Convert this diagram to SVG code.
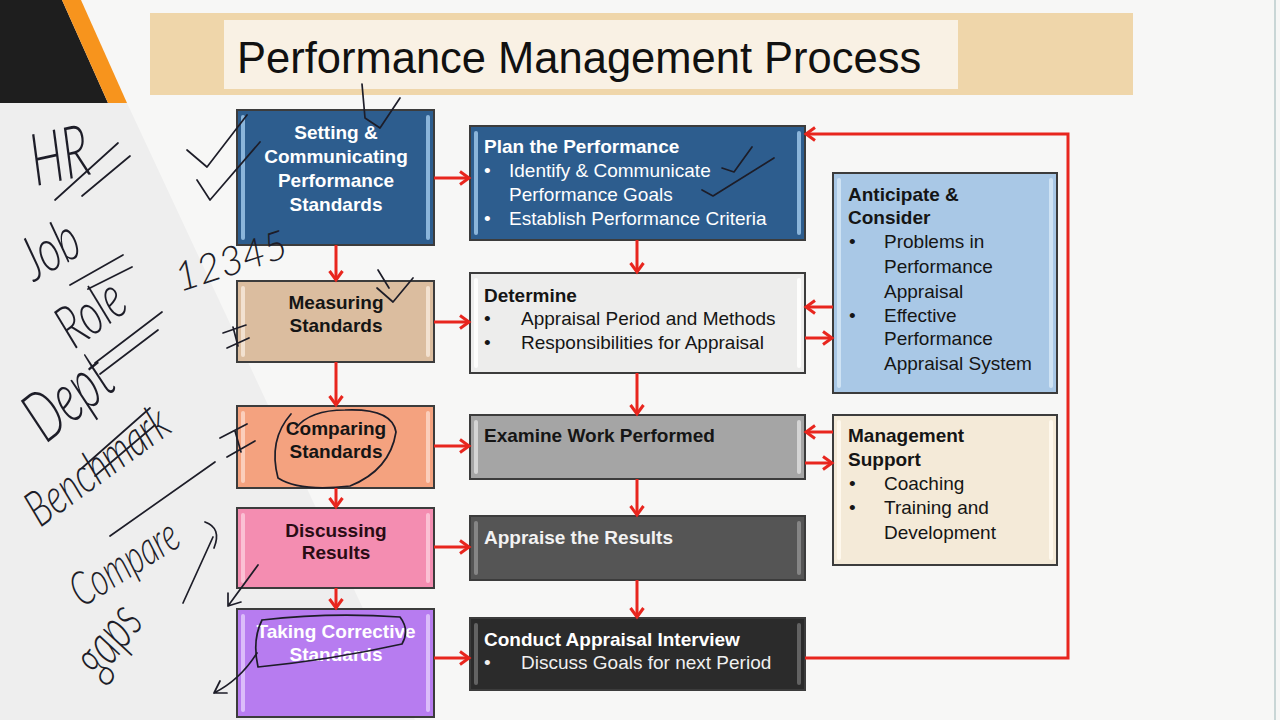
<svg xmlns="http://www.w3.org/2000/svg" width="1280" height="720" viewBox="0 0 1280 720">
<defs>
<style>
.t{font-family:"Liberation Sans",Arial,sans-serif;font-size:19px}
.b{font-weight:bold}
.c{text-anchor:middle}
.w{fill:#ffffff}
.k{fill:#151515}
.box{stroke:#3c3c3c;stroke-width:2}
.hl{opacity:0.85}
.red{fill:none;stroke:#e8261e;stroke-width:3}
.pen{fill:none;stroke:#1d1d28;stroke-width:1.7;stroke-linecap:round;stroke-linejoin:round}
.hw{font-family:Lato,"DejaVu Sans",sans-serif;font-weight:300;font-style:italic;fill:#1d1d28}
</style>
<marker id="ah" markerWidth="14" markerHeight="16" refX="11" refY="8" orient="auto" markerUnits="userSpaceOnUse">
<path d="M2,1.5 L11,8 L2,14.5" fill="none" stroke="#e8261e" stroke-width="3"/>
</marker>
</defs>

<rect x="0" y="0" width="1280" height="720" fill="#f7f7f6"/>
<polygon points="0,103 127,103 415,720 0,720" fill="#eeeeee"/>
<line x1="1275" y1="0" x2="1275" y2="720" stroke="#c9d6d6" stroke-width="2"/>
<polygon points="0,0 62,0 108,103 0,103" fill="#1e1e1e"/>
<polygon points="62,0 81,0 127,103 108,103" fill="#f7941d"/>

<g id="title">
<rect x="150" y="13" width="983" height="82" fill="#efd6aa"/>
<rect x="224" y="20" width="734" height="69" fill="#f9f1e4"/>
<text x="237" y="73" font-family="Liberation Sans, Arial, sans-serif" font-size="43.5" fill="#111">Performance Management Process</text>
</g>

<g id="setting">
<rect class="box" x="237" y="110" width="197" height="135" fill="#2d5d8e"/>
<rect class="hl" x="241" y="115" width="4" height="125" rx="2" fill="#9cc4e8"/>
<rect class="hl" x="426" y="115" width="4" height="125" rx="2" fill="#9cc4e8"/>
<text class="t b c w" x="336" y="139">Setting &amp;</text>
<text class="t b c w" x="336" y="163">Communicating</text>
<text class="t b c w" x="336" y="187">Performance</text>
<text class="t b c w" x="336" y="211">Standards</text>
</g>

<g id="measuring">
<rect class="box" x="237" y="281" width="197" height="81" fill="#dbbd9f"/>
<rect class="hl" x="241" y="286" width="4" height="71" rx="2" fill="#f6e8d8"/>
<rect class="hl" x="426" y="286" width="4" height="71" rx="2" fill="#f6e8d8"/>
<text class="t b c k" x="336" y="309">Measuring</text>
<text class="t b c k" x="336" y="332">Standards</text>
</g>

<g id="comparing">
<rect class="box" x="237" y="406" width="197" height="82" fill="#f4a27f"/>
<rect class="hl" x="241" y="411" width="4" height="72" rx="2" fill="#fcd6c6"/>
<rect class="hl" x="426" y="411" width="4" height="72" rx="2" fill="#fcd6c6"/>
<text class="t b c k" x="336" y="435">Comparing</text>
<text class="t b c k" x="336" y="458">Standards</text>
</g>

<g id="discussing">
<rect class="box" x="237" y="508" width="197" height="80" fill="#f48db1"/>
<rect class="hl" x="241" y="513" width="4" height="70" rx="2" fill="#fcc9db"/>
<rect class="hl" x="426" y="513" width="4" height="70" rx="2" fill="#fcc9db"/>
<text class="t b c" fill="#2a0c14" x="336" y="537">Discussing</text>
<text class="t b c" fill="#2a0c14" x="336" y="559">Results</text>
</g>

<g id="taking">
<rect class="box" x="237" y="609" width="197" height="108" fill="#b77cf0"/>
<rect class="hl" x="241" y="614" width="4" height="98" rx="2" fill="#e2c8fb"/>
<rect class="hl" x="426" y="614" width="4" height="98" rx="2" fill="#e2c8fb"/>
<text class="t b c w" x="336" y="638">Taking Corrective</text>
<text class="t b c w" x="336" y="661">Standards</text>
</g>

<g id="plan">
<rect class="box" x="470" y="126" width="335" height="114" fill="#2d5d8e"/>
<rect class="hl" x="474" y="131" width="4" height="104" rx="2" fill="#9cc4e8"/>
<rect class="hl" x="797" y="131" width="4" height="104" rx="2" fill="#9cc4e8"/>
<text class="t b w" x="484" y="153">Plan the Performance</text>
<text class="t w" x="484" y="177">•</text>
<text class="t w" x="509" y="177">Identify &amp; Communicate</text>
<text class="t w" x="509" y="201">Performance Goals</text>
<text class="t w" x="484" y="225">•</text>
<text class="t w" x="509" y="225">Establish Performance Criteria</text>
</g>

<g id="determine">
<rect class="box" x="470" y="273" width="335" height="100" fill="#ededec"/>
<rect class="hl" x="474" y="278" width="4" height="90" rx="2" fill="#ffffff"/>
<rect class="hl" x="797" y="278" width="4" height="90" rx="2" fill="#ffffff"/>
<text class="t b k" x="484" y="302">Determine</text>
<text class="t k" x="484" y="325">•</text>
<text class="t k" x="521" y="325">Appraisal Period and Methods</text>
<text class="t k" x="484" y="349">•</text>
<text class="t k" x="521" y="349">Responsibilities for Appraisal</text>
</g>

<g id="examine">
<rect class="box" x="470" y="415" width="335" height="64" fill="#a5a5a5"/>
<rect class="hl" x="474" y="420" width="4" height="54" rx="2" fill="#dcdcdc"/>
<rect class="hl" x="797" y="420" width="4" height="54" rx="2" fill="#dcdcdc"/>
<text class="t b k" x="484" y="442">Examine Work Performed</text>
</g>

<g id="appraise">
<rect class="box" x="470" y="516" width="335" height="64" fill="#555555"/>
<rect class="hl" x="474" y="521" width="4" height="54" rx="2" fill="#8e8e8e"/>
<rect class="hl" x="797" y="521" width="4" height="54" rx="2" fill="#8e8e8e"/>
<text class="t b" fill="#f2f2f2" x="484" y="544">Appraise the Results</text>
</g>

<g id="conduct">
<rect class="box" x="470" y="618" width="335" height="72" fill="#2b2b2b"/>
<rect class="hl" x="474" y="623" width="4" height="62" rx="2" fill="#6c6c6c"/>
<rect class="hl" x="797" y="623" width="4" height="62" rx="2" fill="#6c6c6c"/>
<text class="t b w" x="484" y="646">Conduct Appraisal Interview</text>
<text class="t" fill="#f0f0f0" x="484" y="669">•</text>
<text class="t" fill="#f0f0f0" x="521" y="669">Discuss Goals for next Period</text>
</g>

<g id="anticipate">
<rect class="box" x="833" y="173" width="224" height="220" fill="#a9c8e6"/>
<rect class="hl" x="837" y="178" width="4" height="210" rx="2" fill="#d6e7f6"/>
<rect class="hl" x="1049" y="178" width="4" height="210" rx="2" fill="#d6e7f6"/>
<text class="t b k" x="848" y="201">Anticipate &amp;</text>
<text class="t b k" x="848" y="224">Consider</text>
<text class="t k" x="849" y="248">•</text>
<text class="t k" x="884" y="248">Problems in</text>
<text class="t k" x="884" y="273">Performance</text>
<text class="t k" x="884" y="298">Appraisal</text>
<text class="t k" x="849" y="322">•</text>
<text class="t k" x="884" y="322">Effective</text>
<text class="t k" x="884" y="345">Performance</text>
<text class="t k" x="884" y="370">Appraisal System</text>
</g>

<g id="management">
<rect class="box" x="833" y="415" width="224" height="150" fill="#f4ead8"/>
<rect class="hl" x="837" y="420" width="4" height="140" rx="2" fill="#fffaf1"/>
<rect class="hl" x="1049" y="420" width="4" height="140" rx="2" fill="#fffaf1"/>
<text class="t b k" x="848" y="442">Management</text>
<text class="t b k" x="848" y="466">Support</text>
<text class="t k" x="849" y="490">•</text>
<text class="t k" x="884" y="490">Coaching</text>
<text class="t k" x="849" y="514">•</text>
<text class="t k" x="884" y="514">Training and</text>
<text class="t k" x="884" y="539">Development</text>
</g>

<g id="connectors">
<path class="red" marker-end="url(#ah)" d="M336,245 L336,280"/>
<path class="red" marker-end="url(#ah)" d="M336,362 L336,405"/>
<path class="red" marker-end="url(#ah)" d="M336,488 L336,507"/>
<path class="red" marker-end="url(#ah)" d="M336,588 L336,608"/>
<path class="red" marker-end="url(#ah)" d="M434,178 L469,178"/>
<path class="red" marker-end="url(#ah)" d="M434,322 L469,322"/>
<path class="red" marker-end="url(#ah)" d="M434,446 L469,446"/>
<path class="red" marker-end="url(#ah)" d="M434,547 L469,547"/>
<path class="red" marker-end="url(#ah)" d="M434,658 L469,658"/>
<path class="red" marker-end="url(#ah)" d="M637,240 L637,272"/>
<path class="red" marker-end="url(#ah)" d="M637,373 L637,414"/>
<path class="red" marker-end="url(#ah)" d="M637,479 L637,515"/>
<path class="red" marker-end="url(#ah)" d="M637,580 L637,617"/>
<path class="red" marker-end="url(#ah)" d="M833,307 L806,307"/>
<path class="red" marker-end="url(#ah)" d="M805,338 L832,338"/>
<path class="red" marker-end="url(#ah)" d="M833,432 L806,432"/>
<path class="red" marker-end="url(#ah)" d="M805,463 L832,463"/>
<path class="red" marker-end="url(#ah)" d="M805,658 L1068,658 L1068,134 L806,134"/>
</g>

<g id="annotations">
<text class="hw" font-size="58" transform="translate(36,186) rotate(-12) scale(0.8,1.25)">HR</text>
<path class="pen" d="M55,200 L118,143 M82,196 L130,156"/>
<text class="hw" font-size="50" transform="translate(34,282) rotate(-30) scale(0.85,1.2)">Job</text>
<path class="pen" d="M70,285 L123,255 M88,289 L132,267"/>
<text class="hw" font-size="48" transform="translate(74,350) rotate(-36) scale(0.85,1.25)">Role</text>
<path class="pen" d="M95,363 L162,312 M100,374 L158,330"/>
<text class="hw" font-size="40" transform="translate(180,292) rotate(-18)">12345</text>
<text class="hw" font-size="54" transform="translate(46,444) rotate(-38) scale(0.85,1.3)">Dept</text>
<path class="pen" d="M82,468 L150,408 M95,476 L155,425"/>
<text class="hw" font-size="38" transform="translate(40,528) rotate(-36) scale(0.95,1.3)">Benchmark</text>
<path class="pen" d="M110,536 L215,462"/>
<text class="hw" font-size="36" transform="translate(82,608) rotate(-32) scale(0.9,1.3)">Compare</text>
<path class="pen" d="M205,522 Q222,528 214,548 M183,603 L213,537"/>
<text class="hw" font-size="44" transform="translate(100,680) rotate(-52) scale(0.9,1.3)">gaps</text>
<path class="pen" d="M258,565 L228,606 M228,606 L228,593 M228,606 L241,602"/>
<path class="pen" d="M257,653 Q240,680 214,693 M214,693 L220,681 M214,693 L227,693"/>
<path class="pen" d="M187,150 L207,167 L247,115 M197,180 L210,200 L260,142"/>
<path class="pen" d="M362,84 L365,118 L380,128 L400,98"/>
<path class="pen" d="M722,168 L734,172 L752,147 M702,190 L713,196 L774,158"/>
<path class="pen" d="M377,288 L393,302 L413,278 M378,270 L389,288"/>
<path class="pen" d="M223,333 L246,325 M227,348 L249,338 M233,327 L238,346"/>
<path class="pen" d="M220,438 L247,424 M227,457 L255,441 M235,431 L241,452"/>
<path class="pen" d="M291,414 Q268,440 278,478 Q300,492 350,486 Q390,470 396,432 Q392,408 345,410 Q310,410 296,428"/>
<path class="pen" d="M262,620 Q330,612 400,617 Q410,630 402,644 Q330,660 258,667 Q252,640 262,620"/>
</g>
</svg>
